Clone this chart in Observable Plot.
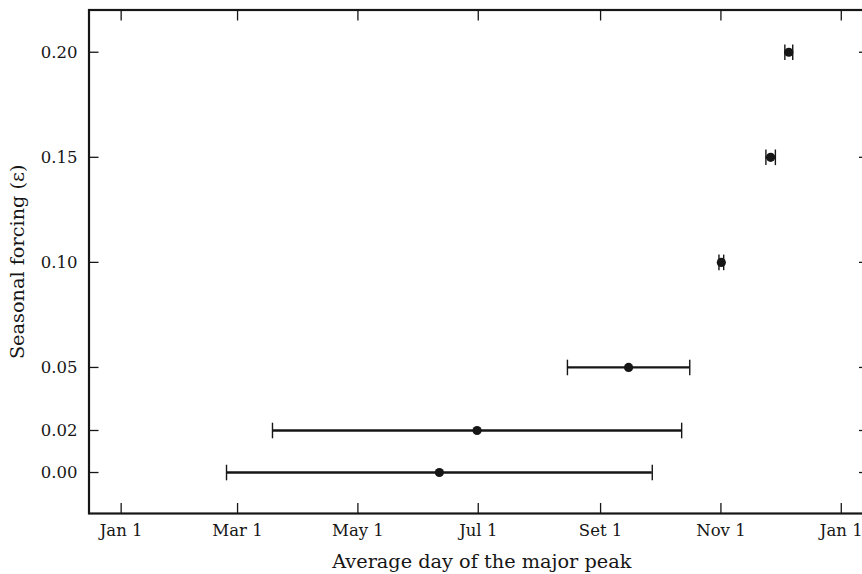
<!DOCTYPE html>
<html><head><meta charset="utf-8">
<script src="https://cdn.jsdelivr.net/npm/d3@7"></script>
<script src="https://cdn.jsdelivr.net/npm/@observablehq/plot@0.6"></script>
<style>
html,body{margin:0;padding:0;background:#fff;overflow:hidden;}
#chart svg{display:block;}
</style></head><body><div id="chart"></div>
<script>
// Seasonal forcing values (epsilon)
const epsilon = [0.00, 0.02, 0.05, 0.10, 0.15, 0.20];
// Average day of year of the major peak (0 = Jan 1)
const meanDay = [161.3, 180.4, 257.2, 304.2, 329.2, 338.4];
// Half-width of the error bar in days
const halfWidth = [107.9, 103.7, 31.0, 1.2, 2.4, 2.0];
// Axis ticks
const xTickDays = [0, 59, 120, 181, 243, 304, 365];
const xTickLabels = ["Jan 1", "Mar 1", "May 1", "Jul 1", "Set 1", "Nov 1", "Jan 1"];
const yTicks = [0.00, 0.02, 0.05, 0.10, 0.15, 0.20];
const xTitle = "Average day of the major peak";
const yTitle = "Seasonal forcing (ε)";

const data = epsilon.map((e, i) => ({
  eps: e, mean: meanDay[i],
  lo: meanDay[i] - halfWidth[i], hi: meanDay[i] + halfWidth[i]
}));
const labelByDay = new Map(xTickDays.map((d, i) => [d, xTickLabels[i]]));

const ink = "#161616";
const capSymbol = {draw(ctx, size) { const h = 7.8; ctx.moveTo(0, -h); ctx.lineTo(0, h); }};

const chart = Plot.plot({
  width: 862, height: 574,
  marginLeft: 88.5, marginRight: -6, marginTop: 9.5, marginBottom: 61,
  style: {fontFamily: "'DejaVu Serif', serif", fontSize: "16.5px", color: ink, background: "white"},
  x: {domain: [-16.3, 378.8]},
  y: {domain: [-0.0195, 0.2201]},
  marks: [
    Plot.ruleY(data, {y: "eps", x1: "lo", x2: "hi", stroke: ink, strokeWidth: 2.3}),
    Plot.dot(data, {x: "lo", y: "eps", symbol: capSymbol, r: 5, fill: "none", stroke: ink, strokeWidth: 1.4}),
    Plot.dot(data, {x: "hi", y: "eps", symbol: capSymbol, r: 5, fill: "none", stroke: ink, strokeWidth: 1.4}),
    Plot.dot(data, {x: "mean", y: "eps", r: 4.6, fill: ink, stroke: "none"}),
    // tick labels
    Plot.axisX(xTickDays, {anchor: "bottom", tickSize: 0, tickPadding: 11, tickFormat: d => labelByDay.get(d), fontSize: 16.5, fill: ink, label: null}),
    Plot.axisY(yTicks, {anchor: "left", tickSize: 0, tickPadding: 11.5, tickFormat: d3.format(".2f"), fontSize: 16.5, fill: ink, label: null}),
    // inward ticks on all four sides (no text)
    Plot.axisX(xTickDays, {anchor: "bottom", tickSize: -10, fill: "none", label: null, stroke: ink, strokeWidth: 1.3}),
    Plot.axisX(xTickDays, {anchor: "top", tickSize: -10, fill: "none", label: null, stroke: ink, strokeWidth: 1.3}),
    Plot.axisY(yTicks, {anchor: "left", tickSize: -10, fill: "none", label: null, stroke: ink, strokeWidth: 1.3}),
    Plot.axisY(yTicks, {anchor: "right", tickSize: -10, fill: "none", label: null, stroke: ink, strokeWidth: 1.3}),
    Plot.frame({stroke: ink, strokeWidth: 2.2}),
    // axis titles
    Plot.text([xTitle], {frameAnchor: "bottom", text: d => d, dy: 54, dx: 3, fontSize: 19.3, fill: ink}),
    Plot.text([yTitle], {frameAnchor: "left", textAnchor: "middle", text: d => d, dx: -71, rotate: -90, fontSize: 19.3, fill: ink})
  ]
});
document.getElementById("chart").appendChild(chart);
</script></body></html>
